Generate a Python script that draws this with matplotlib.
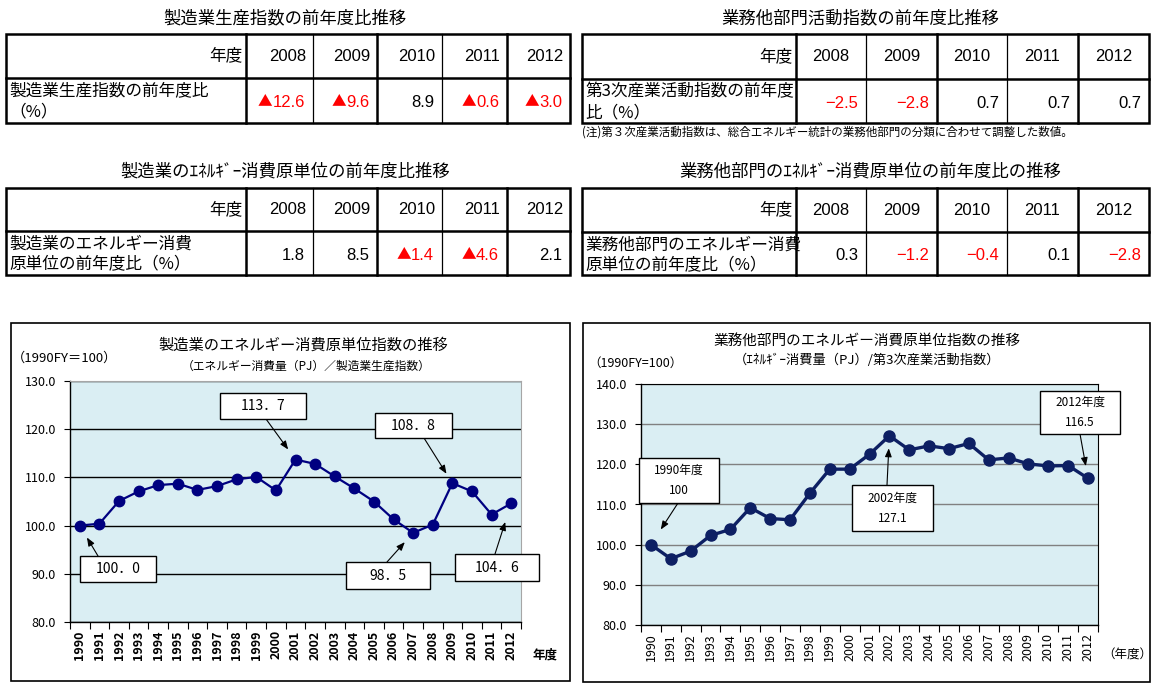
import matplotlib
matplotlib.use('Agg')
import matplotlib.pyplot as plt
from matplotlib.patches import Rectangle
from matplotlib.ticker import FixedLocator, NullFormatter

plt.rcParams['font.family'] = ['Noto Sans CJK JP', 'DejaVu Sans']
NARROW = ['Liberation Sans', 'Noto Sans CJK JP']

W, H = 1153, 685

# ---- table data ----
tbl_years = ['2008', '2009', '2010', '2011', '2012']
mfg_prod_chg = [-12.6, -9.6, 8.9, -0.6, -3.0]
svc_act_chg = [-2.5, -2.8, 0.7, 0.7, 0.7]
mfg_int_chg = [1.8, 8.5, -1.4, -4.6, 2.1]
svc_int_chg = [0.3, -1.2, -0.4, 0.1, -2.8]

# ---- chart data ----
years = ['1990', '1991', '1992', '1993', '1994', '1995', '1996', '1997',
         '1998', '1999', '2000', '2001', '2002', '2003', '2004', '2005',
         '2006', '2007', '2008', '2009', '2010', '2011', '2012']
mfg_index = [100.0, 100.4, 105.1, 107.1, 108.4, 108.7, 107.4, 108.2, 109.6,
             110.1, 107.3, 113.7, 112.8, 110.2, 107.7, 105.0, 101.3, 98.5,
             100.2, 108.8, 107.1, 102.3, 104.6]
svc_index = [100.0, 96.5, 98.4, 102.3, 103.8, 109.2, 106.5, 106.2, 112.8,
             118.8, 118.8, 122.5, 127.1, 123.6, 124.6, 123.9, 125.2, 121.1,
             121.6, 120.1, 119.6, 119.7, 116.5]

fig = plt.figure(figsize=(W / 100, H / 100), dpi=100)
renderer = fig.canvas.get_renderer()


def pixel_axes(z):
    a = fig.add_axes([0, 0, 1, 1])
    a.set_xlim(0, W)
    a.set_ylim(H, 0)
    a.axis('off')
    a.set_zorder(z)
    return a


ax0 = pixel_axes(0)   # tables, panels, titles
axt = pixel_axes(5)   # callout boxes over the charts


def value_text(x, y, v, style):
    col = 'red' if v < 0 else 'black'
    if v >= 0:
        ax0.text(x, y, '%.1f' % v, ha='right', va='center', fontsize=12, family=NARROW, color=col)
        return
    if style == 'minus':
        ax0.text(x, y, '−%.1f' % abs(v), ha='right', va='center', fontsize=12, family=NARROW,
                 color=col)
        return
    # "▲" drawn in the CJK font, left of the number
    t = ax0.text(x, y, '%.1f' % abs(v), ha='right', va='center', fontsize=12, family=NARROW,
                 color=col)
    wpx = t.get_window_extent(renderer=renderer).width
    ax0.text(x - wpx, y - 1, '▲', ha='right', va='center', fontsize=10.5,
             family='Noto Sans CJK JP', color=col)


def draw_table(title, tx, x0, xs, y0, ym, y1, vals, label_lines, style, center_years):
    ax0.text(tx, y0 - 16, title, ha='center', va='center', fontsize=12.5)
    ax0.add_patch(Rectangle((x0, y0), xs[-1] - x0, y1 - y0, fill=False, ec='black', lw=1.8))
    ax0.plot([x0, xs[-1]], [ym, ym], color='black', lw=1.8)
    for i, x in enumerate(xs[:-1]):
        ax0.plot([x, x], [y0, y1], color='black', lw=1.8 if i in (0, 2, 4) else 0.9)
    ax0.text(xs[0] - 4, (y0 + ym) / 2, '年度', ha='right', va='center', fontsize=12)
    for i, yr in enumerate(tbl_years):
        if center_years:
            ax0.text((xs[i] + xs[i + 1]) / 2, (y0 + ym) / 2, yr, ha='center', va='center',
                     fontsize=12, family=NARROW)
        else:
            ax0.text(xs[i + 1] - 7, (y0 + ym) / 2, yr, ha='right', va='center',
                     fontsize=12, family=NARROW)
        value_text(xs[i + 1] - 8, (ym + y1) / 2 + 2, vals[i], style)
    for j, line in enumerate(label_lines):
        ax0.text(x0 + 3, ym + 13 + j * 21, line, ha='left', va='center', fontsize=12)


lcols = [246, 313, 377, 442, 507, 570]
rcols = [796, 866, 937, 1007, 1078, 1149]
draw_table('製造業生産指数の前年度比推移', 285, 6, lcols, 34, 78, 123, mfg_prod_chg,
           ['製造業生産指数の前年度比', '（%）'], 'tri', False)
draw_table('業務他部門活動指数の前年度比推移', 860, 582, rcols, 34, 79, 123, svc_act_chg,
           ['第3次産業活動指数の前年度', '比（%）'], 'minus', True)
ax0.text(582, 132, '(注)第３次産業活動指数は、総合エネルギー統計の業務他部門の分類に合わせて調整した数値。',
         ha='left', va='center', fontsize=8.3)
draw_table('製造業のｴﾈﾙｷﾞｰ消費原単位の前年度比推移', 285, 6, lcols, 188, 231, 275, mfg_int_chg,
           ['製造業のエネルギー消費', '原単位の前年度比（%）'], 'tri', False)
draw_table('業務他部門のｴﾈﾙｷﾞｰ消費原単位の前年度比の推移', 870, 582, rcols, 188, 232, 275, svc_int_chg,
           ['業務他部門のエネルギー消費', '原単位の前年度比（%）'], 'minus', True)

# ---- chart panels ----
ax0.add_patch(Rectangle((11, 323), 559, 358, fc='white', ec='black', lw=1.2))
ax0.add_patch(Rectangle((583, 323), 567, 359, fc='white', ec='black', lw=1.2))

ax0.text(303, 345, '製造業のエネルギー消費原単位指数の推移', ha='center', va='center', fontsize=11)
ax0.text(306, 366, '（エネルギー消費量（PJ）／製造業生産指数）', ha='center', va='center', fontsize=8.5)
ax0.text(12, 358, '（1990FY＝100）', ha='left', va='center', fontsize=9.5)
ax0.text(545, 655, '年度', ha='center', va='center', fontsize=9, weight='bold')

ax0.text(867, 341, '業務他部門のエネルギー消費原単位指数の推移', ha='center', va='center', fontsize=10.5)
ax0.text(867, 360, '（ｴﾈﾙｷﾞｰ消費量（PJ）/第3次産業活動指数）', ha='center', va='center', fontsize=9.5)
ax0.text(588, 363, '（1990FY=100）', ha='left', va='center', fontsize=9)
ax0.text(1127, 655, '（年度）', ha='center', va='center', fontsize=9)


def fig_rect(x, y, w, h):
    return [x / W, (H - y - h) / H, w / W, h / H]


def setup_axis(ax, ylo, yhi, bold):
    ax.set_facecolor('#DAEEF3')
    ax.set_xlim(-0.5, len(years) - 0.5)
    ax.set_ylim(ylo, yhi)
    ax.set_yticks(list(range(ylo, yhi + 1, 10)))
    ax.set_yticklabels(['%.1f' % t for t in range(ylo, yhi + 1, 10)], fontsize=9)
    ax.set_xticks(range(len(years)))
    ax.set_xticklabels(years, rotation=90, fontsize=9, weight='bold' if bold else 'normal')
    ax.xaxis.set_minor_locator(FixedLocator([i - 0.5 for i in range(len(years) + 1)]))
    ax.xaxis.set_minor_formatter(NullFormatter())
    ax.tick_params(axis='x', which='major', length=0, pad=6)
    ax.tick_params(axis='x', which='minor', length=5, width=0.8, direction='out')
    ax.tick_params(axis='y', length=4, width=0.8, direction='out', pad=6)
    for s in ('left', 'bottom'):
        ax.spines[s].set_color('black')
        ax.spines[s].set_linewidth(1.0)
    ax.set_zorder(1)


# left chart
ax1 = fig.add_axes(fig_rect(70, 381, 451, 241))
setup_axis(ax1, 80, 130, True)
for s in ('top', 'right'):
    ax1.spines[s].set_color('#A6A6A6')
    ax1.spines[s].set_linewidth(0.8)
ax1.yaxis.grid(True, color='black', lw=1.0)
ax1.set_axisbelow(True)
ax1.plot(range(len(years)), mfg_index, color='#000080', lw=1.6, marker='o', ms=7.5, zorder=3)

# right chart
ax2 = fig.add_axes(fig_rect(641, 384, 457, 241))
setup_axis(ax2, 80, 140, False)
for s in ('top', 'right'):
    ax2.spines[s].set_color('black')
    ax2.spines[s].set_linewidth(0.8)
ax2.yaxis.grid(True, color='#808080', lw=1.0)
ax2.set_axisbelow(True)
ax2.plot(range(len(years)), svc_index, color='#0D1F63', lw=2.4, marker='o', ms=8, zorder=3)


def callout(ax, idx, series, text, box, start, fs, shrink):
    bx, by, bw, bh = box
    axt.add_patch(Rectangle((bx, by), bw, bh, fc='white', ec='black', lw=1.0))
    axt.text(bx + bw / 2, by + bh / 2, text, ha='center', va='center', fontsize=fs,
             linespacing=1.7)
    ax.annotate('', xy=(idx, series[idx]), xycoords='data', xytext=start,
                textcoords=axt.transData, annotation_clip=False,
                arrowprops=dict(arrowstyle='-|>,head_length=0.5,head_width=0.2', color='black',
                                lw=0.8, shrinkA=0, shrinkB=shrink))


# left callouts: 1990, 2001, 2007, 2009, 2012
callout(ax1, 0, mfg_index, '100．0', (80, 556, 76, 26), (98, 556), 10, 10)
callout(ax1, 11, mfg_index, '113．7', (220, 393, 86, 26), (266, 419), 10, 9)
callout(ax1, 17, mfg_index, '98．5', (346, 562, 84, 27), (387, 562), 10, 9)
callout(ax1, 19, mfg_index, '108．8', (375, 413, 77, 25), (424, 438), 10, 8)
callout(ax1, 22, mfg_index, '104．6', (455, 554, 84, 27), (495, 554), 10, 14)

# right callouts: 1990, 2002, 2012
callout(ax2, 0, svc_index, '1990年度\n100', (639, 458, 80, 45), (678, 503), 8.5, 13)
callout(ax2, 12, svc_index, '2002年度\n127.1', (852, 485, 81, 46), (887, 485), 8.5, 9)
callout(ax2, 22, svc_index, '2012年度\n116.5', (1040, 391, 80, 43), (1080, 434), 8.5, 9)

fig.savefig('out.png', dpi=100)
